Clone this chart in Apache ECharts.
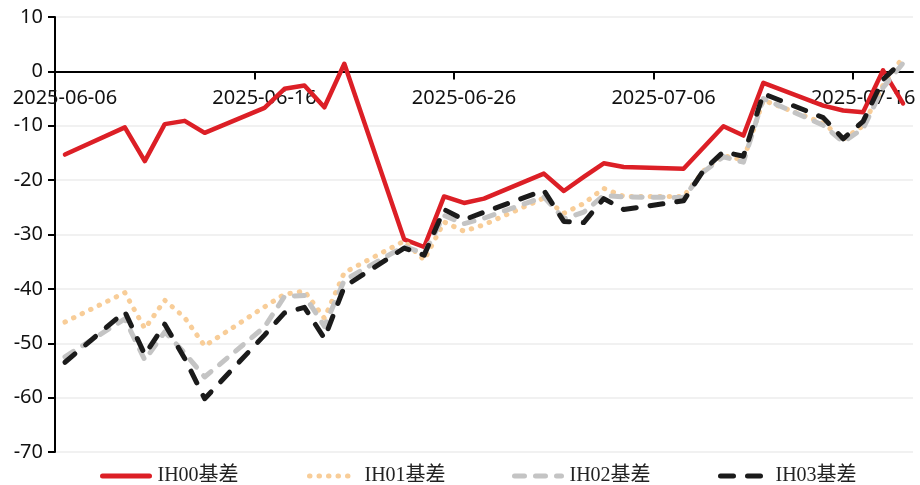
<!DOCTYPE html>
<html>
<head>
<meta charset="utf-8">
<script src="https://cdn.jsdelivr.net/npm/echarts@6/dist/echarts.min.js"></script>
<style>html,body{margin:0;padding:0;background:#fff;}#c{width:920px;height:485px;}</style>
</head>
<body>
<div id="c"></div>
<script>
const dates = ['2025-06-06','2025-06-09','2025-06-10','2025-06-11','2025-06-12','2025-06-13',
  '2025-06-16','2025-06-17','2025-06-18','2025-06-19','2025-06-20',
  '2025-06-23','2025-06-24','2025-06-25','2025-06-26','2025-06-27',
  '2025-06-30','2025-07-01','2025-07-02','2025-07-03','2025-07-04',
  '2025-07-07','2025-07-08','2025-07-09','2025-07-10','2025-07-11',
  '2025-07-14','2025-07-15','2025-07-16','2025-07-17','2025-07-18'];
const ih00 = [-15.3,-10.3,-16.5,-9.7,-9.1,-11.3,-6.7,-3.2,-2.6,-6.6,1.4,-30.9,-32.3,-23.0,-24.2,-23.4,-18.8,-22.0,-19.4,-16.9,-17.6,-17.9,-14.0,-10.1,-11.8,-2.1,-6.3,-7.2,-7.5,0.2,-5.9];
const ih01 = [-46.1,-40.7,-47.3,-42.1,-45.3,-50.5,-43.3,-41.0,-40.4,-45.4,-37.0,-31.2,-34.7,-27.7,-29.4,-28.2,-23.3,-26.1,-24.3,-21.5,-23.0,-23.0,-18.3,-15.5,-16.3,-5.3,-9.5,-12.5,-10.0,-2.5,2.6];
const ih02 = [-52.5,-45.5,-53.1,-47.9,-51.8,-56.2,-47.0,-41.4,-41.2,-46.9,-38.4,-32.2,-33.5,-26.5,-28.0,-27.0,-23.1,-27.1,-25.9,-22.8,-23.1,-23.2,-18.5,-15.7,-16.7,-5.0,-9.9,-13.0,-10.5,-3.0,1.5];
const ih03 = [-53.5,-44.2,-52.1,-46.5,-52.8,-60.2,-48.5,-44.4,-43.4,-49.1,-39.6,-32.5,-33.8,-25.4,-27.3,-25.9,-21.9,-27.6,-27.8,-23.4,-25.4,-23.8,-18.2,-14.8,-15.6,-4.1,-8.5,-12.4,-9.2,-1.5,2.0];
const names = ['IH00基差','IH01基差','IH02基差','IH03基差'];
const yTicks = [10,0,-10,-20,-30,-40,-50,-60,-70];

const DAY = 86400000;
const t0 = Date.parse(dates[0]);
const xOf = d => (Date.parse(d) - t0) / DAY + 0.5;
const fmtDay = v => {
  const dt = new Date(t0 + Math.floor(v) * DAY);
  const p = n => String(n).padStart(2, '0');
  return dt.getUTCFullYear() + '-' + p(dt.getUTCMonth() + 1) + '-' + p(dt.getUTCDate());
};
const pairs = arr => dates.map((d, i) => [xOf(d), arr[i]]);

const H = 485, gridTop = 17, gridBottom = 33;
const yMin = yTicks[yTicks.length - 1], yMax = yTicks[0];
const gridH = H - gridTop - gridBottom;
const zeroOffset = -gridH * (0 - yMin) / (yMax - yMin);

const styles = [
  {color: '#DC1F26', type: 'solid', width: 4.5, cap: 'round'},
  {color: '#F8CD98', type: [0.5, 9], width: 5, cap: 'round'},
  {color: '#C4C4C4', type: [10, 11], width: 5, cap: 'round'},
  {color: '#1B1B1B', type: [13, 14], width: 5, cap: 'round'}
];
const dataArrs = [ih00, ih01, ih02, ih03];
const legendLeft = [100, 307, 512, 718];

const chart = echarts.init(document.getElementById('c'), null, {renderer: 'canvas'});
chart.setOption({
  animation: false,
  backgroundColor: '#fff',
  grid: {left: 55, right: 7, top: gridTop, bottom: gridBottom},
  legend: names.map((n, i) => ({
    data: [n],
    left: legendLeft[i],
    top: 466,
    padding: 0,
    itemWidth: 47,
    itemHeight: 16,
    itemStyle: {opacity: 0},
    lineStyle: {width: 5, cap: 'round'},
    textStyle: {fontFamily: "'Liberation Serif', 'Noto Sans CJK SC', serif", fontSize: 20, color: '#222', padding: [0, 0, 0, 3]}
  })),
  xAxis: {
    type: 'value',
    min: 0,
    max: 43,
    position: 'bottom',
    offset: zeroOffset,
    axisLine: {onZero: false, lineStyle: {color: '#000', width: 2}},
    axisTick: {show: true, length: 8, lineStyle: {color: '#000', width: 2}, customValues: [0, 10, 20, 30, 40]},
    axisLabel: {
      customValues: [0.5, 10.5, 20.5, 30.5, 40.5],
      formatter: v => fmtDay(v),
      fontFamily: "'Noto Sans', sans-serif",
      fontSize: 20,
      color: '#111',
      margin: 17,
      hideOverlap: false
    },
    splitLine: {show: false}
  },
  yAxis: {
    type: 'value',
    min: yMin,
    max: yMax,
    interval: 10,
    axisLine: {show: true, lineStyle: {color: '#000', width: 2}},
    axisTick: {show: true, length: 7, lineStyle: {color: '#000', width: 2}},
    axisLabel: {fontFamily: "'Noto Sans', sans-serif", fontSize: 20, color: '#111', margin: 12},
    splitLine: {show: true, lineStyle: {color: '#ECECEC', width: 1.5}}
  },
  series: names.map((n, i) => ({
    name: n,
    type: 'line',
    data: pairs(dataArrs[i]),
    symbol: 'none',
    showSymbol: false,
    itemStyle: {color: styles[i].color},
    lineStyle: {color: styles[i].color, width: styles[i].width, type: styles[i].type, cap: styles[i].cap, join: 'round'}
  }))
});
</script>
</body>
</html>
